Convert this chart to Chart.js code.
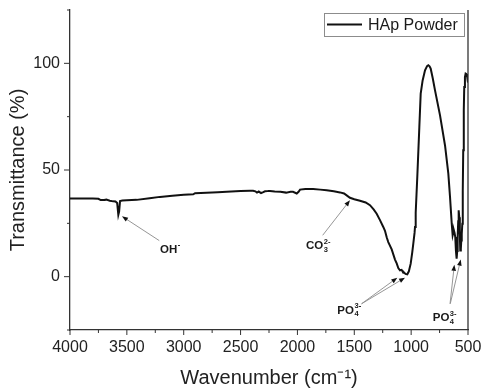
<!DOCTYPE html>
<html>
<head>
<meta charset="utf-8">
<title>FTIR HAp Powder</title>
<script src="https://cdn.jsdelivr.net/npm/chart.js"></script>
<style>
  html, body { margin: 0; padding: 0; background: #fff; }
  #wrap { width: 482px; height: 391px; }
</style>
</head>
<body>
<div id="wrap"><canvas id="ftir" width="482" height="391"></canvas></div>
<script>
// Spectrum
const wavenumber = [4000, 3800, 3750, 3730, 3700, 3680, 3650, 3620, 3600, 3585, 3575, 3568, 3560, 3540, 3500,
  3414, 3300, 3209, 3100, 3000, 2916, 2900, 2800, 2700, 2622, 2500, 2417, 2390, 2370, 2356, 2340, 2320, 2300,
  2285, 2260, 2241, 2200, 2150, 2100, 2060, 2039, 2006, 1990, 1977, 1930, 1862, 1800, 1743, 1680, 1626, 1590,
  1567, 1538, 1500, 1450, 1400, 1362, 1330, 1303, 1274, 1245, 1230, 1215, 1201, 1171, 1142, 1127, 1113, 1098,
  1084, 1069, 1063, 1050, 1034, 1020, 1004, 990, 981, 970, 966, 962, 958, 946, 928, 916, 899, 878, 860, 849,
  838, 828, 810, 790, 746, 702, 673, 658, 643, 635, 630, 624, 618, 612, 606, 600, 595, 591, 586, 582, 577,
  572, 568, 563, 559, 555, 550, 546, 542, 537, 533, 527, 521, 515, 509, 503, 500];
const transmittance = [36.6, 36.6, 36.5, 35.9, 35.9, 36.1, 35.6, 35.3, 35.2, 34.5, 29.0, 30.5, 35.4, 35.7, 35.8,
  36.0, 36.8, 37.4, 37.9, 38.4, 38.6, 39.1, 39.3, 39.6, 39.8, 40.1, 40.3, 40.3, 40.0, 39.4, 39.9, 39.2, 39.6,
  40.0, 40.1, 40.2, 39.9, 39.8, 39.4, 39.8, 39.8, 39.0, 39.8, 40.8, 41.1, 41.1, 40.8, 40.5, 40.0, 39.5, 39.0,
  38.1, 37.0, 36.3, 35.6, 34.8, 33.5, 31.5, 29.5, 26.5, 23.3, 21.5, 18.5, 16.2, 12.8, 8.0, 6.2, 4.0, 3.0,
  3.2, 1.8, 2.0, 1.3, 1.1, 2.5, 6.1, 11.5, 15.5, 20.5, 23.3, 27.0, 30.0, 46.7, 70.1, 85.8, 92.0, 96.7, 98.7, 99.1,
  98.6, 97.5, 93.0, 87.3, 75.6, 61.5, 48.3, 37.3, 24.8, 19.4, 20.5, 21.7, 20.5, 18.6, 12.0, 8.4, 12.0, 18.6, 26.0, 31.1, 27.9,
  20.0, 12.3, 13.0, 17.0, 20.0, 24.8, 40.0, 59.2, 78.0, 88.9, 93.5, 95.2, 95.0, 94.4, 92.0, 91.0];

const seriesLabel = 'HAp Powder';

// Axis ticks
const xTicks = [4000, 3500, 3000, 2500, 2000, 1500, 1000, 500];
const xMinorTicks = [3750, 3250, 2750, 2250, 1750, 1250, 750];
const yTicks = [0, 50, 100];
const yMinorTicks = [-25, 25, 75, 125];

// Peak annotations (data coords): label anchor + arrows [fromX, fromY, toX, toY]
const peakLabels = [
  { main: 'OH', sub: '', sup: '-', x: 3209, y: 11.1 },
  { main: 'CO', sub: '3', sup: '2-', x: 1925, y: 12.8 },
  { main: 'PO', sub: '4', sup: '3-', x: 1649, y: -17.3 },
  { main: 'PO', sub: '4', sup: '3-', x: 810, y: -20.8 }
];
const peakArrows = [
  [3215, 16.9, 3543, 28.3],
  [1778, 19.4, 1538, 35.8],
  [1436, -12.7, 1122, -0.5],
  [1436, -12.7, 1054, -0.5],
  [658, -12.7, 620, 5.6],
  [656, -12.7, 564, 8.0]
];

const FONT = '"Liberation Sans", Arial, Helvetica, sans-serif';

function arrow(ctx, x0, y0, x1, y1) {
  const ang = Math.atan2(y1 - y0, x1 - x0);
  const len = 6, hw = 2.3;
  ctx.strokeStyle = '#8a8a8a';
  ctx.lineWidth = 0.9;
  ctx.beginPath();
  ctx.moveTo(x0, y0);
  ctx.lineTo(x1 - Math.cos(ang) * len, y1 - Math.sin(ang) * len);
  ctx.stroke();
  ctx.fillStyle = '#111';
  ctx.beginPath();
  ctx.moveTo(x1, y1);
  ctx.lineTo(x1 - Math.cos(ang) * len - Math.sin(ang) * hw, y1 - Math.sin(ang) * len + Math.cos(ang) * hw);
  ctx.lineTo(x1 - Math.cos(ang) * len + Math.sin(ang) * hw, y1 - Math.sin(ang) * len - Math.cos(ang) * hw);
  ctx.closePath();
  ctx.fill();
}

function chemLabel(ctx, item, px, py) {
  ctx.fillStyle = '#1a1a1a';
  ctx.textBaseline = 'alphabetic';
  ctx.textAlign = 'left';
  ctx.font = 'bold 11.5px ' + FONT;
  ctx.fillText(item.main, px, py);
  const w = ctx.measureText(item.main).width + 0.5;
  ctx.font = 'bold 7.5px ' + FONT;
  if (item.sup) ctx.fillText(item.sup, px + w, py - 5.5);
  if (item.sub) ctx.fillText(item.sub, px + w, py + 2.5);
}

const decorations = {
  id: 'decorations',
  afterDraw(chart) {
    const { ctx, chartArea: a, scales: { x, y } } = chart;
    ctx.save();

    // right frame line
    ctx.strokeStyle = '#333';
    ctx.lineWidth = 1.3;
    ctx.beginPath();
    ctx.moveTo(a.right, a.top);
    ctx.lineTo(a.right, a.bottom);
    ctx.stroke();

    // tick marks (outside)
    ctx.lineWidth = 1;
    ctx.beginPath();
    xTicks.forEach(v => { const p = x.getPixelForValue(v); ctx.moveTo(p, a.bottom); ctx.lineTo(p, a.bottom + 5); });
    xMinorTicks.forEach(v => { const p = x.getPixelForValue(v); ctx.moveTo(p, a.bottom); ctx.lineTo(p, a.bottom + 3); });
    yTicks.forEach(v => { const p = y.getPixelForValue(v); ctx.moveTo(a.left, p); ctx.lineTo(a.left - 6, p); });
    yMinorTicks.forEach(v => { const p = y.getPixelForValue(v); ctx.moveTo(a.left, p); ctx.lineTo(a.left - 3, p); });
    ctx.stroke();

    // peak annotations
    peakArrows.forEach(([fx, fy, tx, ty]) => {
      arrow(ctx, x.getPixelForValue(fx), y.getPixelForValue(fy), x.getPixelForValue(tx), y.getPixelForValue(ty));
    });
    peakLabels.forEach(item => chemLabel(ctx, item, x.getPixelForValue(item.x), y.getPixelForValue(item.y)));

    // legend box (top right inside plot)
    const ds = chart.data.datasets[0];
    const bx = a.right - 144, by = a.top + 3, bw = 140, bh = 23;
    ctx.strokeStyle = '#8c8c8c';
    ctx.lineWidth = 1;
    ctx.strokeRect(bx + 0.5, by + 0.5, bw, bh);
    ctx.strokeStyle = ds.borderColor;
    ctx.lineWidth = 2;
    ctx.beginPath();
    ctx.moveTo(bx + 3, by + 11.5);
    ctx.lineTo(bx + 38, by + 11.5);
    ctx.stroke();
    ctx.fillStyle = '#1a1a1a';
    ctx.font = '16px ' + FONT;
    ctx.textBaseline = 'middle';
    ctx.fillText(ds.label, bx + 44, by + 12.5);

    ctx.restore();
  }
};

new Chart(document.getElementById('ftir'), {
  type: 'line',
  data: {
    datasets: [{
      label: seriesLabel,
      data: wavenumber.map((w, i) => ({ x: w, y: transmittance[i] })),
      borderColor: '#111',
      borderWidth: 2,
      pointRadius: 0,
      tension: 0,
      fill: false
    }]
  },
  options: {
    responsive: false,
    animation: false,
    devicePixelRatio: 1,
    layout: { padding: { top: 10, right: 14, left: 0, bottom: 0 } },
    plugins: {
      legend: { display: false },
      tooltip: { enabled: false }
    },
    scales: {
      x: {
        type: 'linear',
        reverse: true,
        min: 500,
        max: 4000,
        afterBuildTicks: s => { s.ticks = xTicks.map(v => ({ value: v })); },
        afterFit: s => { s.height = 61; s.paddingLeft = 0; s.paddingRight = 0; },
        grid: { drawOnChartArea: false, drawTicks: true, tickLength: 5, tickColor: 'rgba(0,0,0,0)' },
        border: { display: true, color: '#333', width: 1.3 },
        ticks: {
          autoSkip: false,
          maxRotation: 0,
          padding: 3,
          color: '#222',
          font: { family: FONT, size: 16 },
          callback: v => String(v)
        },
        title: {
          display: true,
          text: 'Wavenumber (cm\u207B\u00B9)',
          color: '#222',
          font: { family: FONT, size: 20 },
          padding: { top: 0, bottom: 1 }
        }
      },
      y: {
        min: -25,
        max: 125,
        afterBuildTicks: s => { s.ticks = yTicks.map(v => ({ value: v })); },
        afterFit: s => { s.width = 70; s.paddingTop = 0; s.paddingBottom = 0; },
        grid: { drawOnChartArea: false, drawTicks: true, tickLength: 6, tickColor: 'rgba(0,0,0,0)' },
        border: { display: true, color: '#333', width: 1.3 },
        ticks: {
          padding: 4,
          color: '#222',
          font: { family: FONT, size: 16 },
          callback: v => String(v)
        },
        title: {
          display: true,
          text: 'Transmittance (%)',
          color: '#222',
          font: { family: FONT, size: 20 },
          padding: { top: 6, bottom: 0 }
        }
      }
    }
  },
  plugins: [decorations]
});
</script>
</body>
</html>
